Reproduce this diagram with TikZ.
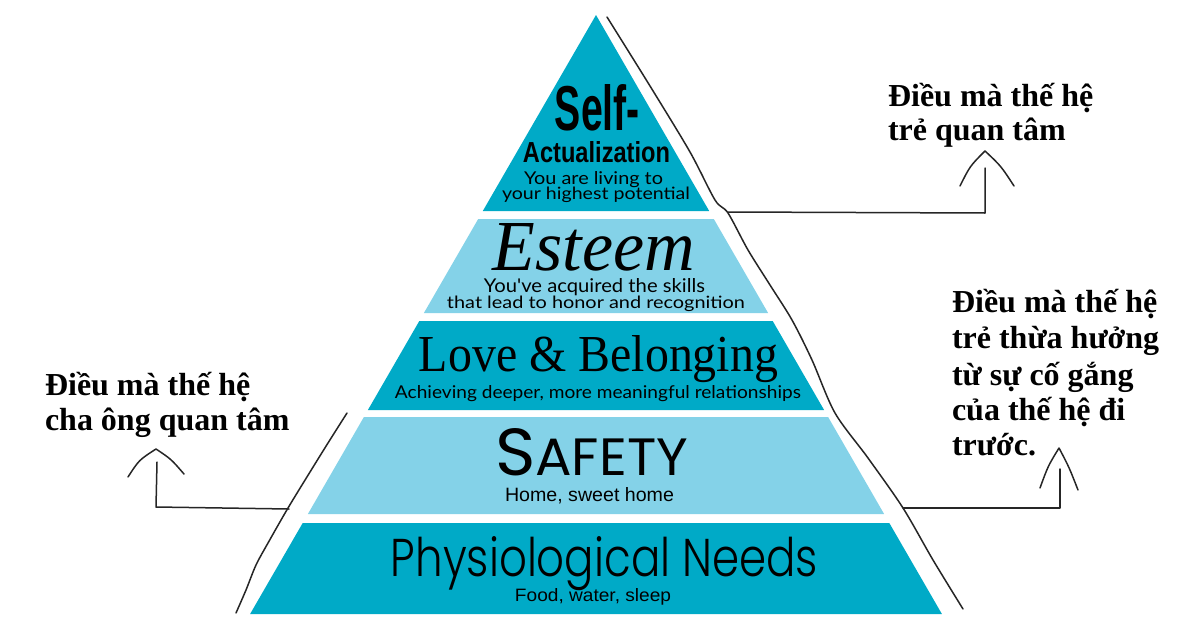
\documentclass[tikz,border=0pt]{standalone}
\usepackage{fontspec}
\usepackage{graphicx}
\newfontfamily\vnfont{Liberation Serif}
\newfontfamily\condfont{Liberation Sans}
\newfontfamily\popfont{Poppins}
\newfontfamily\poplight{Poppins Light}
\newfontfamily\subfont{Lato}
\newfontfamily\serfont{Liberation Serif}
\definecolor{tealdark}{RGB}{0,170,199}
\definecolor{teallight}{RGB}{132,210,232}
\newcommand\fitbox[3]{\resizebox{#1pt}{#2pt}{#3}}
\begin{document}
\begin{tikzpicture}[x=1pt,y=-1pt,
  lbl/.style={anchor=base, inner sep=0pt, outer sep=0pt},
  vn/.style={anchor=base west, inner sep=0pt, outer sep=0pt, font=\vnfont\bfseries\fontsize{32}{35}\selectfont},
  hand/.style={line width=1.5pt, draw=black!85, line cap=round, line join=round}]
\fill[white] (0,0) rectangle (1194,629);
\useasboundingbox (0,0) rectangle (1194,629);

% bands
\fill[tealdark] (596,15) -- (709.2,211) -- (482.8,211) -- cycle;
\fill[teallight] (478.2,219) -- (713.8,219) -- (768.1,313) -- (423.9,313) -- cycle;
\fill[tealdark] (419.3,321) -- (772.7,321) -- (824.1,410) -- (367.9,410) -- cycle;
\fill[teallight] (363.9,417) -- (828.1,417) -- (884.1,514) -- (307.9,514) -- cycle;
\fill[tealdark] (302.7,523) -- (889.3,523) -- (941.9,614) -- (250.1,614) -- cycle;

% band texts
\node[lbl] (selfa) at (597.5,130) {\fitbox{85}{46}{\condfont\bfseries Self-}};
\node[lbl] (selfb) at (596.5,162) {\fitbox{147}{21}{\condfont\bfseries Actualization}};
\node[lbl] (selfc) at (593.5,184) {\fitbox{139}{13}{\subfont You are living to}};
\node[lbl] (selfd) at (596,199) {\fitbox{188}{12.5}{\subfont your highest potential}};

\node[lbl] (esta) at (594,270) {\fitbox{202}{47}{\serfont\itshape Esteem}};
\node[lbl] (estb) at (594.5,292) {\fitbox{221}{14}{\subfont You\textquotesingle ve acquired the skills}};
\node[lbl] (estc) at (596,308) {\fitbox{298}{12.5}{\subfont that lead to honor and recognition}};

\node[lbl] (lovea) at (598.5,371) {\fitbox{359}{36}{\serfont Love \& Belonging}};
\node[lbl] (loveb) at (598,398) {\fitbox{406}{13}{\subfont Achieving deeper, more meaningful relationships}};

\node[lbl] (safa) at (591.5,475) {\fitbox{193}{47}{\popfont\fontsize{60}{60}\selectfont S\fontsize{47.3}{48}\selectfont AFETY}};
\node[lbl] (safb) at (589.5,501) {\fitbox{169}{14}{\condfont Home, sweet home}};

\node[lbl] (phya) at (604.5,576) {\fitbox{427}{40}{\poplight Physiological Needs}};
\node[lbl] (phyb) at (593,601) {\fitbox{156}{13}{\condfont Food, water, sleep}};

% hand-drawn outline
\draw[hand] plot[smooth] coordinates {(607,17) (650,86) (690,152) (715,200) (728,213) (748,250) (770,285) (792,320) (812,360) (835,413) (868,458) (903,508) (933,560) (963,609)};
\draw[hand] plot[smooth] coordinates {(347,413) (328,443) (310,472) (288,508) (268,543) (256,565) (246,590) (236,613)};

% labels
\node[vn] (tra) at (888,106) {Điều mà thế hệ};
\node[vn] (trb) at (888,140) {trẻ quan tâm};
\node[vn] (lfa) at (45,395) {Điều mà thế hệ};
\node[vn] (lfb) at (45,430) {cha ông quan tâm};
\node[vn] (rma) at (952,312) {Điều mà thế hệ};
\node[vn] (rmb) at (952,348) {trẻ thừa hưởng};
\node[vn] (rmc) at (952,385) {từ sự cố gắng};
\node[vn] (rmd) at (952,420) {của thế hệ đi};
\node[vn] (rme) at (952,455) {trước.};

% connectors
\coordinate (trS) at (728,212); \coordinate (trK) at (985,213); \coordinate (trE) at (985,168);
\coordinate (trL) at (960,186); \coordinate (trT) at (985,151); \coordinate (trR) at (1014,186);
\draw[hand] (trS) -- (trK) -- (trE);
\draw[hand] (trL) .. controls (970,166) .. (trT) .. controls (1001,166) .. (trR);

\coordinate (lfS) at (289,509); \coordinate (lfK) at (156,507); \coordinate (lfE) at (157,462);
\coordinate (lfL) at (128,477); \coordinate (lfT) at (156,449); \coordinate (lfR) at (184,474);
\draw[hand] (lfS) -- (lfK) -- (lfE);
\draw[hand] (lfL) .. controls (139,460) .. (lfT) .. controls (171,459) .. (lfR);

\coordinate (rmS) at (903,508); \coordinate (rmK) at (1060,508); \coordinate (rmE) at (1060,469);
\coordinate (rmL) at (1040,488); \coordinate (rmT) at (1059,448); \coordinate (rmR) at (1078,490);
\draw[hand] (rmS) -- (rmK) -- (rmE);
\draw[hand] (rmL) .. controls (1048,466) .. (rmT) .. controls (1069,467) .. (rmR);
\end{tikzpicture}
\end{document}
